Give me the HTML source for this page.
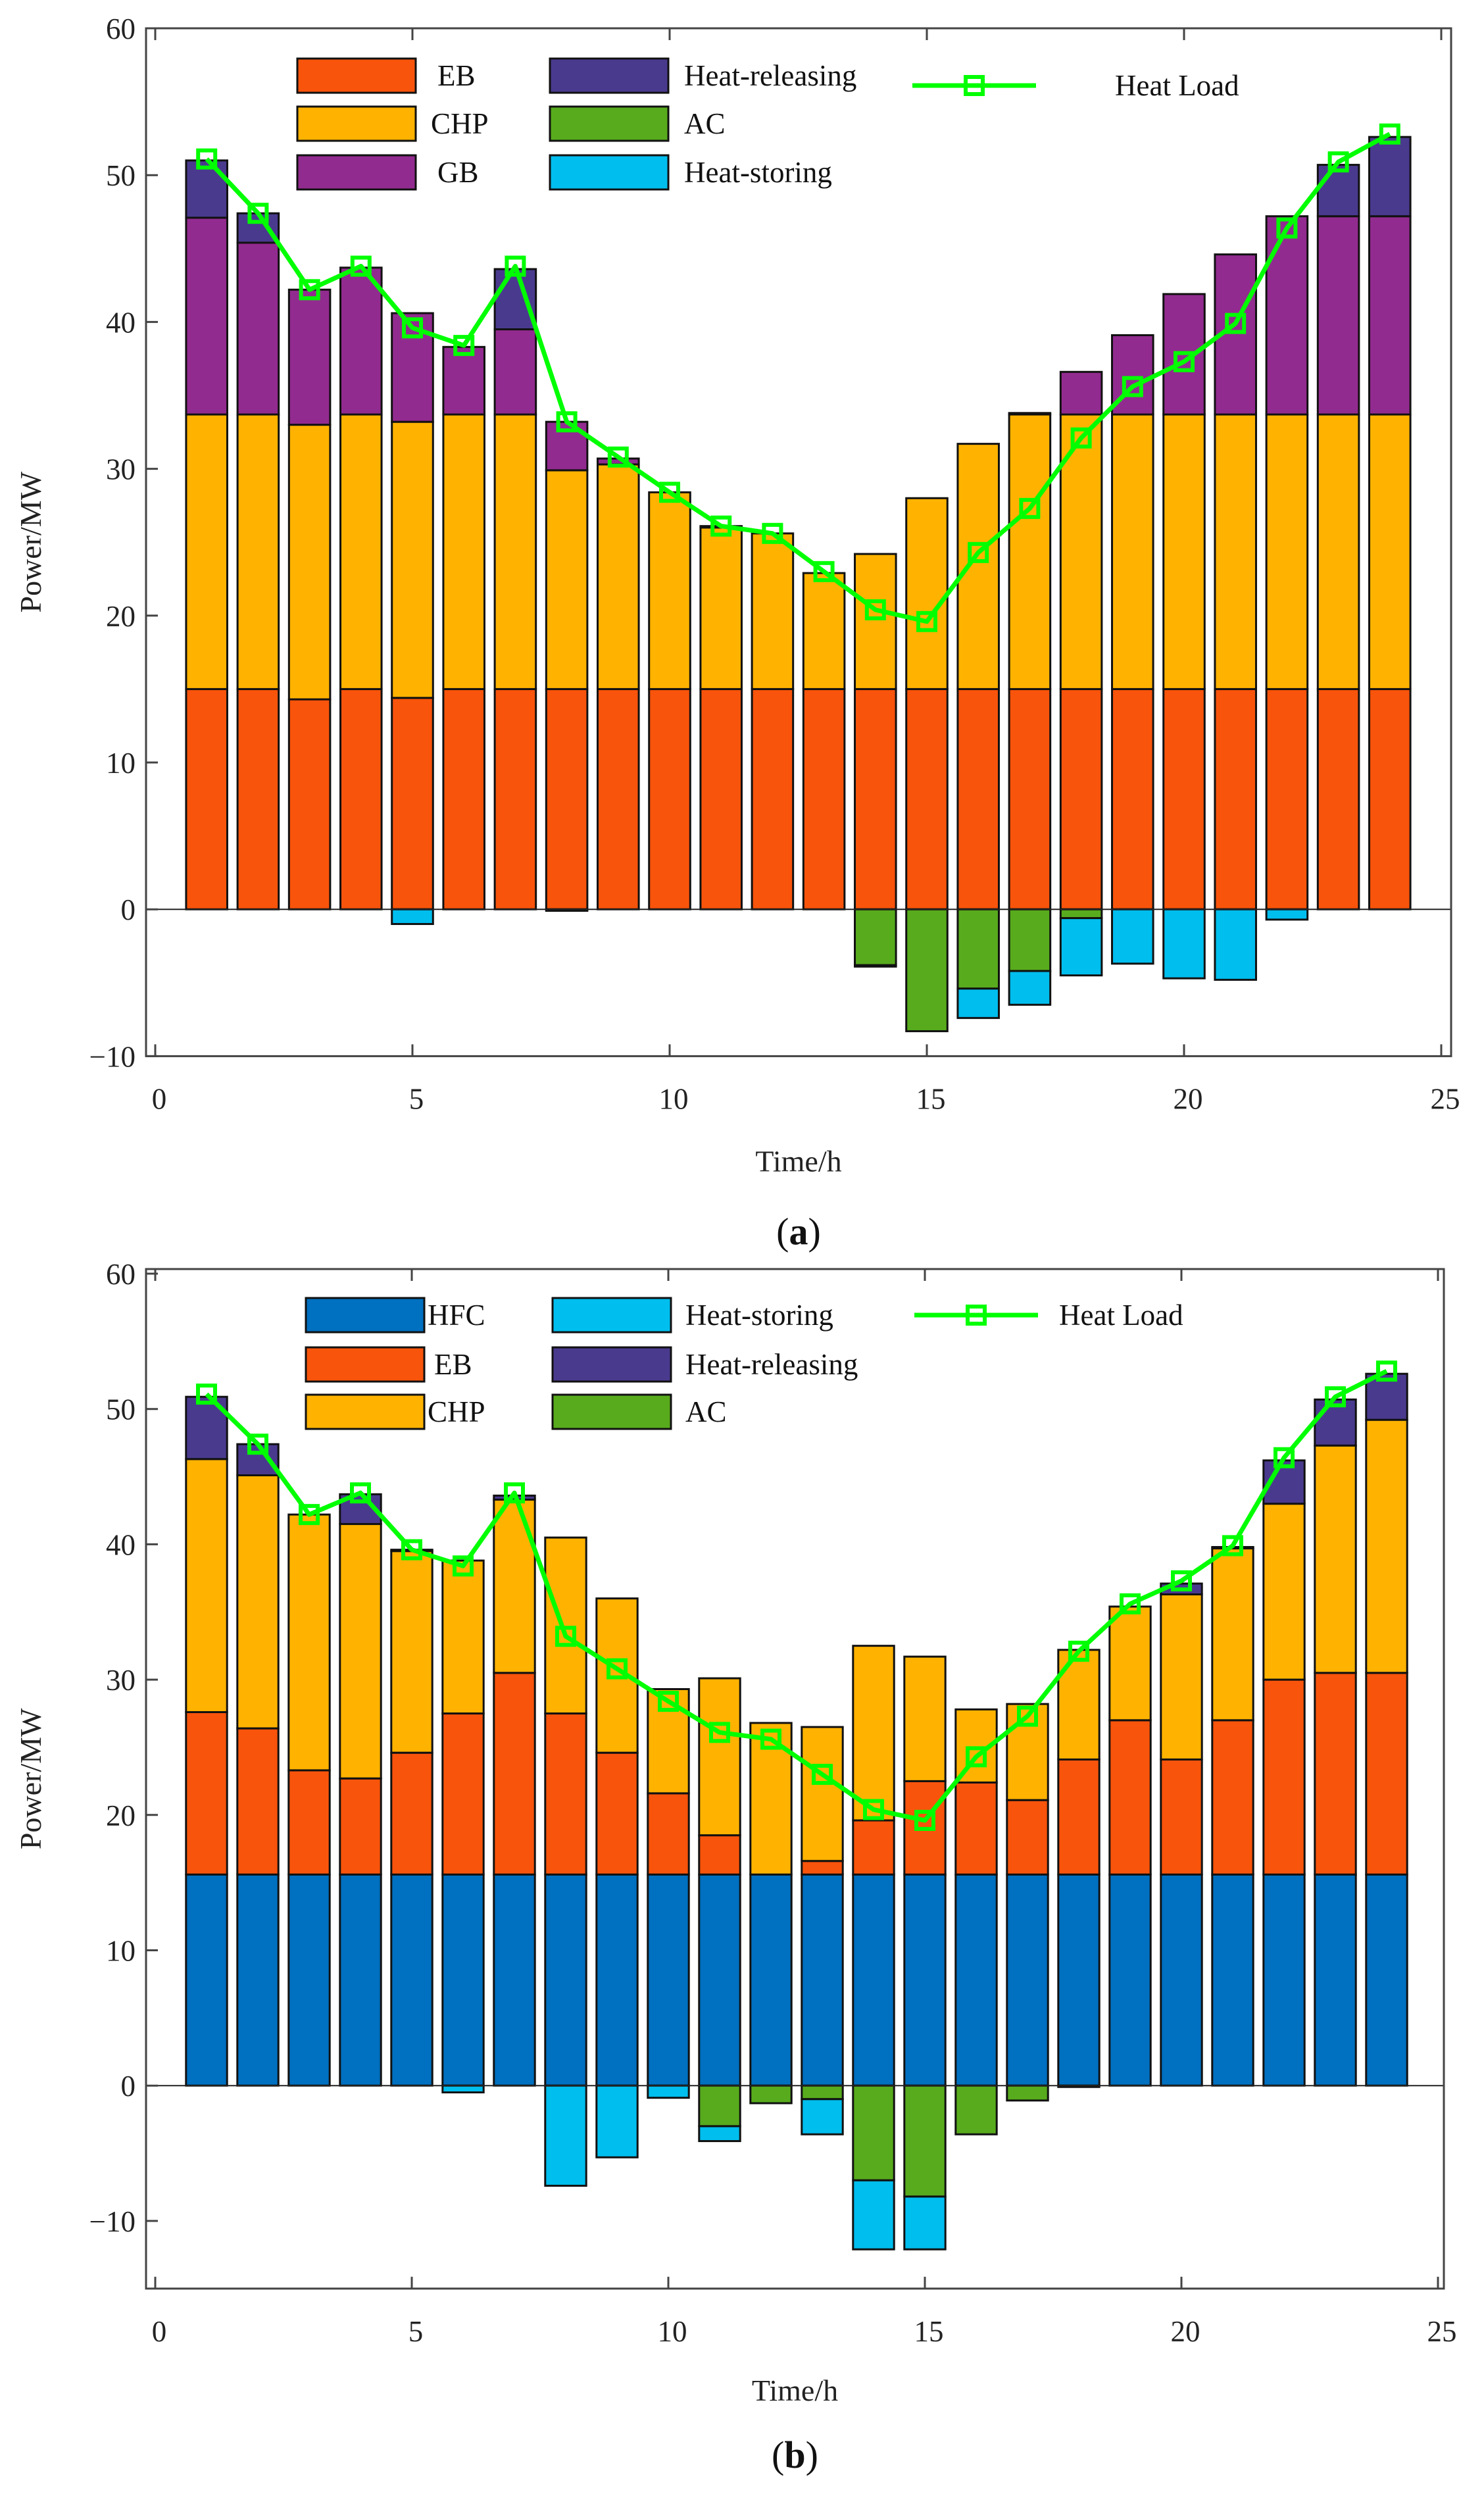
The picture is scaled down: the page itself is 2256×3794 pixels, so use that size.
<!DOCTYPE html>
<html><head><meta charset="utf-8"><style>
html,body{margin:0;padding:0;background:#fff;}
svg{display:block;font-family:"Liberation Serif",serif;}
</style></head><body>
<svg id="fig" width="2256" height="3794" viewBox="0 0 2256 3794" xmlns="http://www.w3.org/2000/svg"></svg>
<script>
const hours = [1,2,3,4,5,6,7,8,9,10,11,12,13,14,15,16,17,18,19,20,21,22,23,24];
const heatLoad = [51.1,47.4,42.2,43.8,39.6,38.4,43.8,33.2,30.8,28.4,26.1,25.6,23.0,20.4,19.6,24.3,27.3,32.1,35.6,37.3,39.9,46.4,50.9,52.8];
// chart (a) cumulative tops
const aEB = [15,15,14.3,15,14.4,15,15,15,15,15,15,15,15,15,15,15,15,15,15,15,15,15,15,15];
const aCHP = [33.7,33.7,33.0,33.7,33.2,33.7,33.7,29.9,30.3,28.4,26.0,25.6,22.9,24.2,28.0,31.7,33.7,33.7,33.7,33.7,33.7,33.7,33.7,33.7];
const aGB = [47.1,45.4,42.2,43.7,40.6,38.3,39.5,33.2,30.7,28.4,26.1,25.6,22.9,24.2,28.0,31.7,33.8,36.6,39.1,41.9,44.6,47.2,47.2,47.2];
const aRel = [51.0,47.4,42.2,43.7,40.6,38.3,43.6,33.2,30.7,28.4,26.1,25.6,22.9,24.2,28.0,31.7,33.8,36.6,39.1,41.9,44.6,47.2,50.7,52.6];
const aAC = [0,0,0,0,0,0,0,0,0,0,0,0,0,-3.8,-8.3,-5.4,-4.2,-0.6,0,0,0,0,0,0];
const aStore = [0,0,0,0,-1.0,0,0,-0.1,0,0,0,0,0,-3.9,-8.3,-7.4,-6.5,-4.5,-3.7,-4.7,-4.8,-0.7,0,0];
// chart (b) cumulative tops
const bHFC = [15.6,15.6,15.6,15.6,15.6,15.6,15.6,15.6,15.6,15.6,15.6,15.6,15.6,15.6,15.6,15.6,15.6,15.6,15.6,15.6,15.6,15.6,15.6,15.6];
const bEB = [27.6,26.4,23.3,22.7,24.6,27.5,30.5,27.5,24.6,21.6,18.5,15.6,16.6,19.6,22.5,22.4,21.1,24.1,27.0,24.1,27.0,30.0,30.5,30.5];
const bCHP = [46.3,45.1,42.2,41.5,39.5,38.8,43.3,40.5,36.0,29.3,30.1,26.8,26.5,32.5,31.7,27.8,28.2,32.2,35.4,36.3,39.7,43.0,47.3,49.2];
const bRel = [50.9,47.4,42.2,43.7,39.6,38.8,43.6,40.5,36.0,29.3,30.1,26.8,26.5,32.5,31.7,27.8,28.2,32.2,35.4,37.1,39.8,46.2,50.7,52.6];
const bAC = [0,0,0,0,0,0,0,0,0,0,-3.0,-1.3,-1.0,-7.0,-8.2,-3.6,-1.1,0,0,0,0,0,0,0];
const bStore = [0,0,0,0,0,-0.5,0,-7.4,-5.3,-0.9,-4.1,-1.3,-3.6,-12.1,-12.1,-3.6,-1.1,-0.1,0,0,0,0,0,0];
const xTicks = [0,5,10,15,20,25];
const yTicksA = [-10,0,10,20,30,40,50,60];
const yTicksB = [-10,0,10,20,30,40,50,60];

const C = {HFC:'#0070C0',EB:'#F8540B',CHP:'#FFB300',GB:'#922B8F',REL:'#4A3A8E',AC:'#58AB1D',ST:'#00BEEE',LOAD:'#00FF00'};
const NS='http://www.w3.org/2000/svg';
const svg=document.getElementById('fig');
function mk(tag,attrs,parent){const e=document.createElementNS(NS,tag);for(const k in attrs)e.setAttribute(k,attrs[k]);(parent||svg).appendChild(e);return e;}

function drawChart(cfg){
  const g=mk('g',{});
  
  
  const X=t=>cfg.x0+t*cfg.xu;
  const Y=v=>cfg.y60+(60-v)*cfg.yu;
  const bw=0.8*cfg.xu;
  hours.forEach((h,i)=>{
    const segs=[];
    let prev=0;
    cfg.pos.forEach(s=>{const top=s.arr[i];if(top>prev+0.001){segs.push([prev,top,s.color,s.key]);prev=top;}});
    prev=0;
    cfg.neg.forEach(s=>{const bot=s.arr[i];if(bot<prev-0.001){segs.push([bot,prev,s.color,s.key]);prev=bot;}});
    segs.forEach(sg=>{
      const r=mk('rect',{x:X(h)-bw/2,y:Y(sg[1]),width:bw,height:Y(sg[0])-Y(sg[1]),fill:sg[2],stroke:'#111',"stroke-width":3},g);
      
      
    });
  });
  const zl=mk('line',{x1:cfg.left,x2:cfg.right,y1:Y(0),y2:Y(0),stroke:'#222',"stroke-width":2},g);
  
  
  const box=mk('rect',{x:cfg.left,y:cfg.top,width:cfg.right-cfg.left,height:cfg.bottom-cfg.top,fill:'none',stroke:'#444',"stroke-width":3},g);
  
  
  xTicks.forEach(t=>{
    mk('line',{x1:X(t),x2:X(t),y1:cfg.bottom,y2:cfg.bottom-18,stroke:'#444',"stroke-width":3},g);
    mk('line',{x1:X(t),x2:X(t),y1:cfg.top,y2:cfg.top+18,stroke:'#444',"stroke-width":3},g);
    const tx=mk('text',{x:X(t)+6,y:cfg.bottom+80,"font-size":45,"text-anchor":"middle",fill:'#222'},g);
    tx.textContent=t;
    
    
  });
  cfg.yticks.forEach(v=>{
    mk('line',{x1:cfg.left,x2:cfg.left+18,y1:Y(v),y2:Y(v),stroke:'#444',"stroke-width":3},g);
    const tx=mk('text',{x:cfg.left-16,y:Y(v)+16,"font-size":45,"text-anchor":"end",fill:'#222'},g);
    tx.textContent=v<0?'\u2212'+(-v):v;
    
    
  });
  const pts=hours.map((h,i)=>X(h)+','+Y(heatLoad[i])).join(' ');
  const pl=mk('polyline',{points:pts,fill:'none',stroke:C.LOAD,"stroke-width":7,"stroke-linejoin":"round"},g);
  
  
  hours.forEach((h,i)=>{
    const m=mk('rect',{x:X(h)-13,y:Y(heatLoad[i])-13,width:26,height:26,fill:'none',stroke:C.LOAD,"stroke-width":6},g);
    
    
  });
  const yl=mk('text',{x:0,y:0,"font-size":46,"text-anchor":"middle",fill:'#222',transform:`translate(62,${(cfg.top+cfg.bottom)/2}) rotate(-90)`},g);
  yl.textContent='Power/MW';
  
  
  const xl=mk('text',{x:(cfg.left+cfg.right)/2,y:cfg.bottom+cfg.xtOff,"font-size":46,"text-anchor":"middle",fill:'#222'},g);
  xl.textContent='Time/h';
  
  
  const cap=mk('text',{x:(cfg.left+cfg.right)/2,y:cfg.bottom+cfg.capOff,"font-size":58,"text-anchor":"middle",fill:'#111'},g);
  cap.innerHTML='(<tspan font-weight="bold">'+cfg.cap+'</tspan>)';
  
  
  cfg.legend.forEach(L=>{
    if(L.line){
      const ll=mk('line',{x1:L.x,x2:L.x+188,y1:L.y,y2:L.y,stroke:C.LOAD,"stroke-width":7},g);
      
      
      mk('rect',{x:L.x+94-13,y:L.y-13,width:26,height:26,fill:'none',stroke:C.LOAD,"stroke-width":6},g);
    } else {
      const b=mk('rect',{x:L.x,y:L.y-26,width:180,height:52,fill:L.color,stroke:'#111',"stroke-width":3},g);
      
      
    }
    const t=mk('text',{x:L.tx,y:L.y+15,"font-size":45,fill:'#111'},g);
    t.textContent=L.label;
    
    
  });
}

drawChart({name:'chart-a',cap:'a',x0:236,xu:78.2,y60:43,yu:22.32,left:222,right:2206,top:43,bottom:43+70*22.32,yticks:yTicksA,xtOff:175,capOff:286,
  pos:[{arr:aEB,color:C.EB,key:'eb'},{arr:aCHP,color:C.CHP,key:'chp'},{arr:aGB,color:C.GB,key:'gb'},{arr:aRel,color:C.REL,key:'releasing'}],
  neg:[{arr:aAC,color:C.AC,key:'ac'},{arr:aStore,color:C.ST,key:'storing'}],
  legend:[
    {x:452,y:115,color:C.EB,label:'EB',tx:665},
    {x:452,y:188,color:C.CHP,label:'CHP',tx:655},
    {x:452,y:262,color:C.GB,label:'GB',tx:665},
    {x:836,y:115,color:C.REL,label:'Heat-releasing',tx:1040},
    {x:836,y:188,color:C.AC,label:'AC',tx:1040},
    {x:836,y:262,color:C.ST,label:'Heat-storing',tx:1040},
    {x:1387,y:130,line:true,label:'Heat Load',tx:1695}
  ]});

drawChart({name:'chart-b',cap:'b',x0:236,xu:78.0,y60:1936,yu:20.57,left:222,right:2195,top:1929,bottom:1936+75*20.57,yticks:yTicksB,xtOff:170,capOff:272,
  pos:[{arr:bHFC,color:C.HFC,key:'hfc'},{arr:bEB,color:C.EB,key:'eb'},{arr:bCHP,color:C.CHP,key:'chp'},{arr:bRel,color:C.REL,key:'releasing'}],
  neg:[{arr:bAC,color:C.AC,key:'ac'},{arr:bStore,color:C.ST,key:'storing'}],
  legend:[
    {x:465,y:1999,color:C.HFC,label:'HFC',tx:650},
    {x:465,y:2074,color:C.EB,label:'EB',tx:660},
    {x:465,y:2146,color:C.CHP,label:'CHP',tx:650},
    {x:840,y:1999,color:C.ST,label:'Heat-storing',tx:1042},
    {x:840,y:2074,color:C.REL,label:'Heat-releasing',tx:1042},
    {x:840,y:2146,color:C.AC,label:'AC',tx:1042},
    {x:1390,y:1999,line:true,label:'Heat Load',tx:1610}
  ]});
</script>
</body></html>
